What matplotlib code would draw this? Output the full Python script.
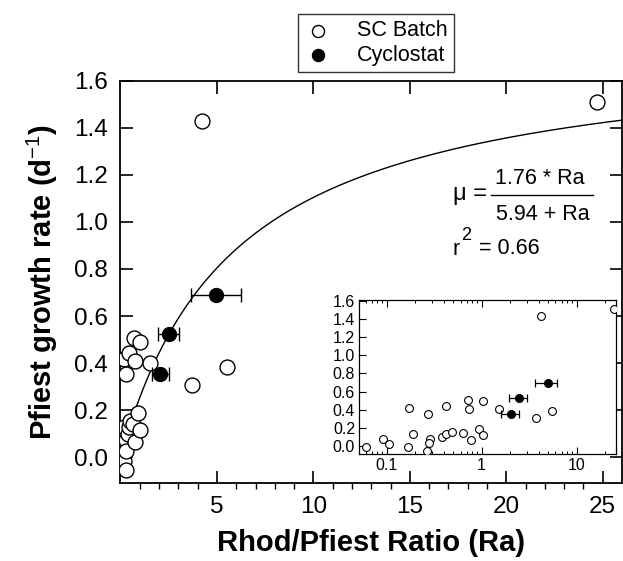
import numpy as np
import matplotlib
matplotlib.use("Agg")
import matplotlib.pyplot as plt

plt.rcParams["font.family"] = ["Liberation Sans", "DejaVu Sans"]
plt.rcParams["mathtext.fontset"] = "custom"
plt.rcParams["mathtext.rm"] = "Liberation Sans"
plt.rcParams["mathtext.it"] = "Liberation Sans"
plt.rcParams["mathtext.bf"] = "Liberation Sans:bold"

# SC Batch (open circles)
batch_ra = [0.06, 0.091, 0.106, 0.171, 0.19, 0.168, 0.27, 0.286, 0.281, 0.266,
            0.38, 0.418, 0.42, 0.486, 0.63, 0.72, 0.73, 0.77, 0.93, 1.03,
            1.03, 1.52, 4.2, 3.72, 5.5, 24.7]
batch_mu = [-0.018, 0.074, 0.019, 0.417, 0.13, -0.018, 0.354, 0.074, 0.027, -0.055,
            0.10, 0.13, 0.442, 0.152, 0.14, 0.505, 0.41, 0.066, 0.188, 0.49,
            0.115, 0.402, 1.43, 0.307, 0.385, 1.51]

# Cyclostat (filled circles, with x error)
cyc_ra = [2.05, 2.5, 4.95]
cyc_mu = [0.355, 0.525, 0.69]
cyc_err = [0.44, 0.54, 1.3]

# Monod fit
mu_max, k_s = 1.76, 5.94

fig = plt.figure(figsize=(6.23, 5.61), dpi=100)
ax = fig.add_axes([0.1934, 0.139, 0.805, 0.717])

ra = np.linspace(0, 26, 400)
ax.plot(ra, mu_max * ra / (k_s + ra), color="black", lw=1.0, zorder=2)
ax.scatter(batch_ra, batch_mu, s=115, facecolor="white", edgecolor="black",
           linewidth=1.0, zorder=3)
ax.errorbar(cyc_ra, cyc_mu, xerr=cyc_err, fmt="o", ms=10, color="black",
            ecolor="black", elinewidth=1.0, capsize=5, capthick=1.0, zorder=4)

ax.set_xlim(0, 26)
ax.set_ylim(-0.11, 1.6)
ax.set_xticks([5, 10, 15, 20, 25])
ax.set_xticks(np.arange(1, 26), minor=True)
ax.set_yticks(np.arange(0, 1.61, 0.2))
ax.set_yticklabels([f"{v:.1f}" for v in np.arange(0, 1.61, 0.2)])
ax.tick_params(which="major", direction="in", length=9, width=1.2,
               top=True, right=True, labelsize=17.5)
ax.tick_params(axis="y", which="major", pad=9)
ax.tick_params(axis="x", which="major", pad=9)
ax.tick_params(axis="x", which="minor", direction="out", length=4, width=1.0,
               top=False)
ax.tick_params(axis="y", which="minor", left=False, right=False)
for s in ax.spines.values():
    s.set_linewidth(1.3)
ax.set_xlabel("Rhod/Pfiest Ratio (Ra)", fontsize=21, fontweight="bold", labelpad=8)
ax.set_ylabel("Pfiest growth rate (d$^{-1}$)", fontsize=21, fontweight="bold", labelpad=10)

# equation
def fx(px):
    return px / 623
def fy(py):
    return 1 - py / 561

fig.text(fx(487), fy(194), "μ =", fontsize=17, ha="right", va="center")
fig.text(fx(540), fy(179), "1.76 * Ra", fontsize=15.5, ha="center", va="center")
fig.text(fx(543), fy(214), "5.94 + Ra", fontsize=15.5, ha="center", va="center")
fig.add_artist(plt.Line2D([fx(491), fx(593)], [fy(195), fy(195)],
                          transform=fig.transFigure, color="black", lw=1.0))
fig.text(fx(452), fy(250), "r", fontsize=15.5, ha="left", va="center")
fig.text(fx(461), fy(236), "2", fontsize=13, ha="left", va="center")
fig.text(fx(479), fy(249), "= 0.66", fontsize=15.5, ha="left", va="center")

# legend
h1 = ax.scatter([], [], s=75, facecolor="white", edgecolor="black", linewidth=1.0)
h2 = ax.scatter([], [], s=75, facecolor="black", edgecolor="black")
fig.legend([h1, h2], ["SC Batch", "Cyclostat"], loc="center",
           bbox_to_anchor=(fx(376), fy(43)), fontsize=15.5, frameon=True,
           fancybox=False, edgecolor="black", handletextpad=1.2,
           borderpad=0.3, labelspacing=0.15, handlelength=1.2)

# inset, log x
axi = fig.add_axes([0.5767, 0.1907, 0.412, 0.2745])
axi.scatter(batch_ra, batch_mu, s=32, facecolor="white", edgecolor="black",
            linewidth=0.8, zorder=3)
axi.errorbar(cyc_ra, cyc_mu, xerr=cyc_err, fmt="o", ms=5.5, color="black",
             ecolor="black", elinewidth=0.9, capsize=3, capthick=0.9, zorder=4)
axi.set_xscale("log")
axi.set_xlim(0.0515, 26)
axi.set_ylim(-0.09, 1.61)
axi.minorticks_on()
axi.set_xticks([0.1, 1, 10])
axi.set_xticklabels(["0.1", "1", "10"])
axi.set_yticks(np.arange(0, 1.61, 0.2))
axi.set_yticklabels([f"{v:.1f}" for v in np.arange(0, 1.61, 0.2)])
axi.tick_params(which="major", direction="in", length=5, width=0.8,
                top=True, right=False, labelsize=11.5, pad=3)
axi.tick_params(which="minor", direction="in", length=2.5, width=0.7,
                top=True, right=False)
axi.tick_params(axis="y", which="minor", left=False)
for s in axi.spines.values():
    s.set_linewidth(0.9)

fig.savefig("out.png", dpi=100, facecolor="white")
